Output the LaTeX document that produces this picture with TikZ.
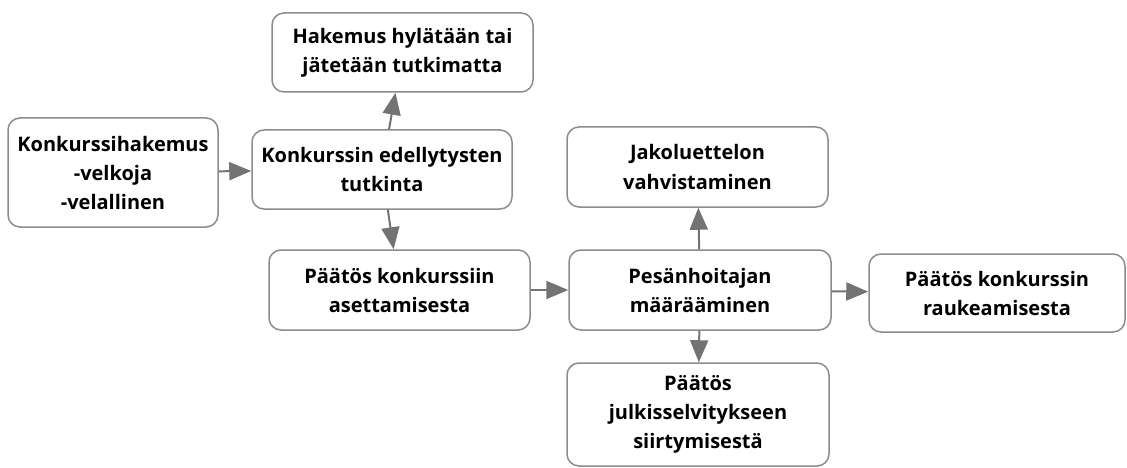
\documentclass[tikz,border=0pt]{standalone}
\usepackage{fontspec}
\setmainfont{Open Sans}
\usepackage{tikz}
\usetikzlibrary{arrows.meta}

\begin{document}
\begin{tikzpicture}[x=1pt,y=-1pt]
            \tikzstyle{box}=[rectangle, rounded corners=12pt, minimum width=261pt, minimum height=80pt, inner sep=0pt, line width=1.5pt, draw = black!45, fill=white, align=center, font=\fontsize{20}{29}\selectfont\bfseries]
            \tikzstyle{connect}=[line width=2pt, draw=black!55, -{Triangle[length=22pt,width=18pt]}]
            \useasboundingbox (0,0) rectangle (1127,468);
            {\node[box, minimum width=210pt, minimum height=109pt] (hakemus) at (113,172.5){Konkurssihakemus\\-velkoja\\-velallinen};
            \node[box, minimum width=260pt, minimum height=79pt] (tutkinta) at (382,169.5){Konkurssin edellytysten\\tutkinta};
            \node[box, minimum height=79pt] (hylkays) at (402.5,52.5){Hakemus hylätään tai\\jätetään tutkimatta};
            \node[box] (asettaminen) at (399.5,290){Päätös konkurssiin\\asettamisesta};
            \node[box, minimum width=262pt] (pesanhoitaja) at (700,290){Pesänhoitajan\\määrääminen};
            \node[box] (jakoluettelo) at (697.5,167){Jakoluettelon\\vahvistaminen};
            \node[box, minimum width=256pt, minimum height=78pt] (raukeaminen) at (997,293){Päätös konkurssin\\raukeamisesta};
            \node[box, minimum width=262pt, minimum height=103pt] (julkisselvitys) at (698,414.5){Päätös\\julkisselvitykseen\\siirtymisestä};}
\path (hakemus) edge [connect] (tutkinta);
            \path (tutkinta) edge [connect] (hylkays);
            \path (tutkinta) edge [connect] (asettaminen);
            \path (asettaminen) edge [connect] (pesanhoitaja);
            \path (pesanhoitaja) edge [connect] (jakoluettelo);
            \path (pesanhoitaja) edge [connect] (raukeaminen);
            \path (pesanhoitaja) edge [connect] (julkisselvitys);
        \end{tikzpicture}
\end{document}
